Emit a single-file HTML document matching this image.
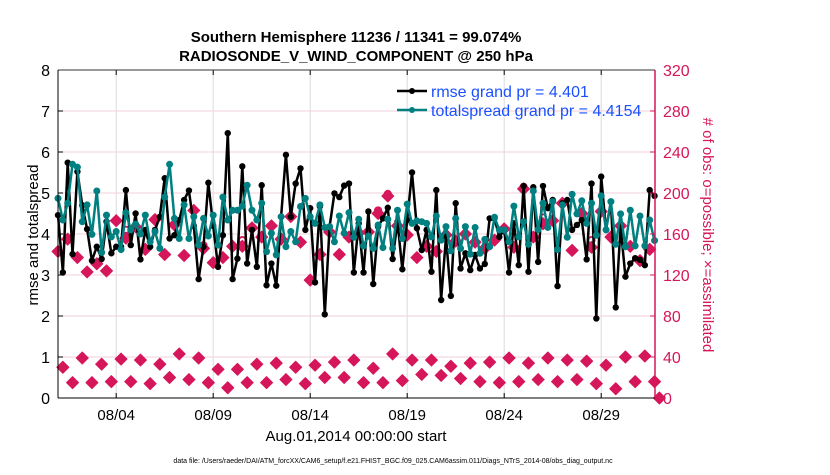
<!DOCTYPE html>
<html><head><meta charset="utf-8">
<style>
body{margin:0;background:#fff;width:830px;height:470px;overflow:hidden}
svg{font-family:"Liberation Sans",Arial,sans-serif}
</style></head>
<body>
<svg id="chart" width="830" height="470" viewBox="0 0 830 470">
<g id="grid"></g>
<g id="series"></g>
<g id="axes"></g>
<text x="356" y="42" text-anchor="middle" font-size="15" font-weight="bold">Southern Hemisphere 11236 / 11341 = 99.074%</text>
<text x="356" y="61" text-anchor="middle" font-size="15" font-weight="bold">RADIOSONDE_V_WIND_COMPONENT @ 250 hPa</text>
<text transform="translate(38,235) rotate(-90)" text-anchor="middle" font-size="15">rmse and totalspread</text>
<text transform="translate(703,235) rotate(90)" text-anchor="middle" font-size="15" fill="#d6165a"># of obs: o=possible; ×=assimilated</text>
<text x="356" y="441" text-anchor="middle" font-size="15">Aug.01,2014 00:00:00 start</text>
<text x="393" y="463" text-anchor="middle" font-size="7">data file: /Users/raeder/DAI/ATM_forcXX/CAM6_setup/f.e21.FHIST_BGC.f09_025.CAM6assim.011/Diags_NTrS_2014-08/obs_diag_output.nc</text>
<g>
<g>
<line x1="397" y1="91" x2="427" y2="91" stroke="#000" stroke-width="2.5"/><circle cx="412" cy="91" r="3" fill="#000"/>
<text x="431" y="97" font-size="16" fill="#1a50ff">rmse grand pr = 4.401</text></g>
<g>
<line x1="397" y1="110" x2="427" y2="110" stroke="#008080" stroke-width="2.5"/><circle cx="412" cy="110" r="3" fill="#008080"/>
<text x="431" y="116" font-size="16" fill="#1a50ff">totalspread grand pr = 4.4154</text></g>
</g>
</svg>
<script>
const xTickLabels=["08/04","08/09","08/14","08/19","08/24","08/29"];
const xTickDays=[3,8,13,18,23,28];
const yLeftTicks=[0,1,2,3,4,5,6,7,8];
const yRightTicks=[0,40,80,120,160,200,240,280,320];
const rmse=[4.46,3.06,5.74,3.51,5.52,4.7,4.12,3.35,3.69,3.39,4.3,3.53,3.69,3.69,5.07,3.73,4.5,3.38,4.1,3.69,4.1,4.42,5.36,3.89,3.97,4.34,4.83,5.06,4.2,2.9,3.69,5.25,4.2,3.2,3.97,6.46,2.9,3.4,5.65,3.28,4.1,3.2,5.19,2.75,3.28,2.74,4.42,5.93,4.42,5.23,5.6,4.1,4.63,2.82,4.67,2.04,4.18,4.99,4.9,5.18,5.23,3.06,4.26,3.06,4.55,2.78,4.18,4.38,4.64,3.39,4.3,3.14,4.34,5.5,4.14,3.61,4.1,3.08,5.07,2.39,3.93,2.49,4.75,3.16,3.53,3.12,3.49,3.16,3.27,4.38,4.38,3.93,4.1,3.06,4.26,3.24,5.17,3.08,5.14,3.32,5.17,4.63,4.83,2.73,4.75,4.83,4.1,4.22,4.34,3.38,5.23,1.94,5.4,4.1,4.79,2.21,4.18,2.96,3.28,3.41,3.37,3.24,5.07,4.93];
const totalspread=[4.87,4.34,4.75,5.7,5.63,4.3,4.71,3.99,5.05,3.55,4.46,3.93,4.06,3.62,4.52,4.1,4.24,4.0,4.46,3.81,4.06,3.65,4.9,5.7,4.38,3.89,4.71,3.89,4.42,3.73,4.38,3.95,4.46,3.73,4.9,4.34,4.58,4.58,4.68,5.19,4.58,4.34,4.75,3.57,4.02,3.49,4.42,3.69,4.06,3.81,4.67,4.87,4.42,4.26,4.71,4.16,4.18,3.81,4.44,4.02,4.52,3.92,4.36,3.71,3.95,3.65,4.22,3.67,4.36,3.65,4.58,3.89,4.73,4.26,4.32,4.3,4.26,3.93,4.44,3.85,4.18,3.59,4.38,3.65,4.18,3.51,4.16,3.53,3.87,3.69,4.41,4.1,4.1,3.81,4.68,3.93,4.3,3.75,5.05,4.11,4.75,4.16,4.79,3.62,4.71,3.92,4.97,4.49,4.81,4.26,4.75,3.97,4.93,4.1,4.79,3.75,4.49,3.69,4.58,3.71,4.44,3.71,4.34,3.84];
const obsAssim=[143,30,155,15,137,39,123,15,131,33,124,16,173,38,156,16,167,37,145,14,174,33,140,20,169,43,139,18,183,39,146,15,132,28,137,10,148,28,148,15,166,33,157,15,168,34,155,18,177,30,152,14,115,32,140,20,162,35,140,20,157,37,161,15,162,29,180,15,197,43,168,17,159,37,137,23,148,37,143,22,159,31,153,19,160,34,152,16,146,35,154,15,165,39,147,16,204,34,157,18,170,39,173,16,190,37,144,18,180,36,147,14,182,32,157,9,168,40,148,16,134,41,145,16,0];
const obsPossible=[143,30,155,15,137,39,123,15,131,33,124,16,173,38,164,16,167,37,145,14,175,33,140,20,169,43,139,18,183,39,149,15,132,28,137,10,148,28,154,15,166,33,157,15,168,34,155,18,177,30,152,14,115,32,140,20,162,35,140,20,157,37,161,15,162,29,183,15,199,43,168,17,159,37,137,23,148,37,143,22,159,31,153,19,160,34,152,16,146,35,154,15,165,39,147,16,206,34,157,18,176,39,173,16,190,37,144,18,180,36,154,14,182,32,157,9,168,40,148,16,134,41,145,16,0];

const NS="http://www.w3.org/2000/svg";
const L=58,R=655,T=70,B=398;
function xDay(d){return L+d*19.4;}
function xIdx(i){return xDay(i*0.25);}
function yL(v){return B-v*(B-T)/8;}
function yR(v){return B-v*(B-T)/320;}
function mk(tag,attrs,parent){const e=document.createElementNS(NS,tag);for(const k in attrs)e.setAttribute(k,attrs[k]);parent.appendChild(e);return e;}
const grid=document.getElementById('grid'),series=document.getElementById('series'),axes=document.getElementById('axes');

xTickDays.forEach((d,k)=>{
  const gl=mk('line',{x1:xDay(d),x2:xDay(d),y1:T,y2:B,stroke:'#dcdcdc','stroke-width':1},grid);
  
  
  mk('line',{x1:xDay(d),x2:xDay(d),y1:B,y2:B-5,stroke:'#000'},axes);
  mk('line',{x1:xDay(d),x2:xDay(d),y1:T,y2:T+5,stroke:'#000'},axes);
  const t=mk('text',{x:xDay(d),y:B+22,'text-anchor':'middle','font-size':15},axes);
  t.textContent=xTickLabels[k];
  
  
});
yLeftTicks.forEach(v=>{
  if(v>0&&v<8){const gl=mk('line',{x1:L,x2:R,y1:yL(v),y2:yL(v),stroke:'#f3cfdc','stroke-width':1},grid);
  
  }
  mk('line',{x1:L,x2:L+5,y1:yL(v),y2:yL(v),stroke:'#000'},axes);
  const t=mk('text',{x:L-8,y:yL(v)+6,'text-anchor':'end','font-size':16},axes);
  t.textContent=v;
  
  
});
yRightTicks.forEach(v=>{
  mk('line',{x1:R,x2:R-5,y1:yR(v),y2:yR(v),stroke:'#d6165a'},axes);
  const t=mk('text',{x:R+8,y:yR(v)+6,'font-size':16,fill:'#d6165a'},axes);
  t.textContent=v;
  
  
});
mk('line',{x1:L,x2:R,y1:T,y2:T,stroke:'#333'},axes);
mk('line',{x1:L,x2:R,y1:B,y2:B,stroke:'#000'},axes);
mk('line',{x1:L,x2:L,y1:T,y2:B,stroke:'#000'},axes);
mk('line',{x1:R,x2:R,y1:T,y2:B,stroke:'#d6165a','stroke-width':1.5},axes);

obsPossible.forEach((v,i)=>{
  const c=mk('circle',{cx:xIdx(i),cy:yR(v),r:3.2,fill:'none',stroke:'#d6165a','stroke-width':1.8},series);
  
  
});
obsAssim.forEach((v,i)=>{
  const x=xIdx(i),y=yR(v),s=6;
  const p=mk('path',{d:`M${x},${y-s}L${x+s},${y}L${x},${y+s}L${x-s},${y}Z`,fill:'#d6165a',stroke:'#d6165a','stroke-width':1,'stroke-linejoin':'round'},series);
  
  
});
function drawLine(arr,color,name,r){
  const pts=arr.map((v,i)=>xIdx(i).toFixed(1)+','+yL(v).toFixed(1)).join(' ');
  const pl=mk('polyline',{points:pts,fill:'none',stroke:color,'stroke-width':2.5,'stroke-linejoin':'round'},series);
  
  
  arr.forEach((v,i)=>{
    const c=mk('circle',{cx:xIdx(i),cy:yL(v),r:r,fill:color},series);
    
    
  });
}
drawLine(rmse,'#000','rmse',3.2);
drawLine(totalspread,'#008080','totalspread',3.5);
</script>
</body></html>
